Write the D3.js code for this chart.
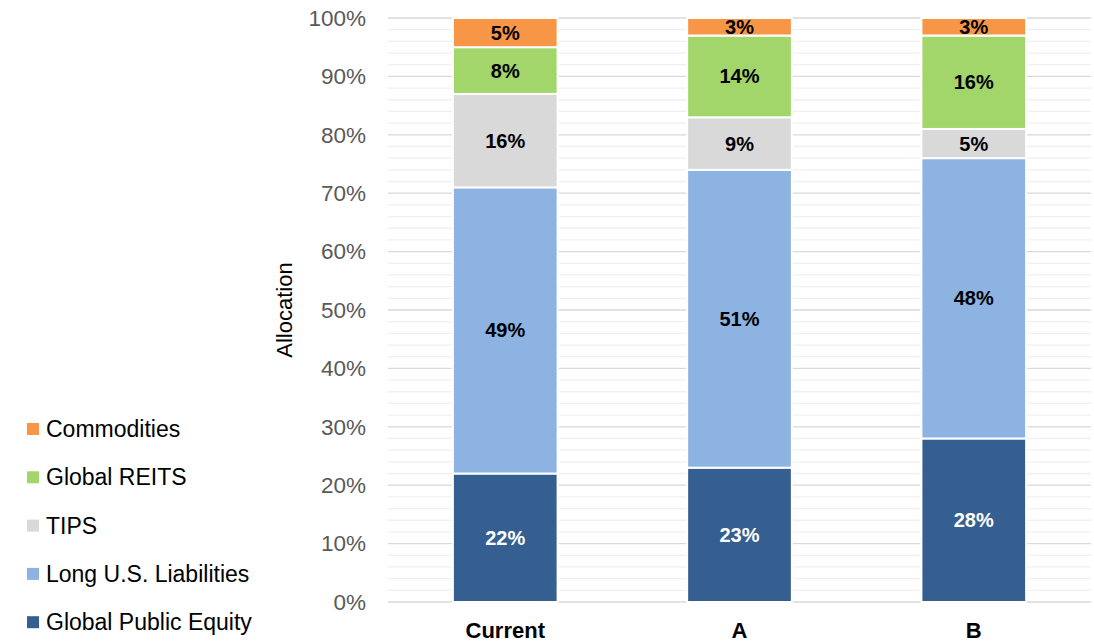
<!DOCTYPE html>
<html><head><meta charset="utf-8">
<script src="https://cdn.jsdelivr.net/npm/d3@7"></script>
<style>body{margin:0;background:#fff;font-family:Arial,"Liberation Sans",sans-serif}</style>
</head><body><div id="container"></div>
<script>
const categories = ["Current", "A", "B"];
const seriesNames = ["Global Public Equity", "Long U.S. Liabilities", "TIPS", "Global REITS", "Commodities"];
const colors = ["#355f91", "#8db3e2", "#d9d9d9", "#a2d56a", "#f79646"];
const equity = [22, 23, 28];
const liabilities = [49, 51, 48];
const tips = [16, 9, 5];
const reits = [8, 14, 16];
const commodities = [5, 3, 3];
const yTicks = [0, 10, 20, 30, 40, 50, 60, 70, 80, 90, 100];

const width = 1094, height = 643;
const svg = d3.select("#container").append("svg").attr("width", width).attr("height", height);

const x = d3.scaleBand().domain(categories).range([388, 1091]).paddingInner(0.553).paddingOuter(0.277);
const y = d3.scaleLinear().domain([0, 100]).range([602, 18]);

// minor grid every 2%
svg.append("g").selectAll("line").data(d3.range(0, 101, 2).filter(v => v % 10 !== 0)).join("line")
  .attr("x1", 388).attr("x2", 1091).attr("y1", d => y(d)).attr("y2", d => y(d))
  .attr("stroke", "#f0f0f0").attr("stroke-width", 1.3);
svg.append("g").selectAll("line").data(yTicks).join("line")
  .attr("x1", 388).attr("x2", 1091).attr("y1", d => y(d)).attr("y2", d => y(d))
  .attr("stroke", "#d9d9d9").attr("stroke-width", 1.3);

const yAxis = svg.append("g").attr("transform", "translate(388,0)")
  .call(d3.axisLeft(y).tickValues(yTicks).tickFormat(d => d + "%").tickSize(0).tickPadding(22));
yAxis.select(".domain").remove();
yAxis.selectAll("text").attr("font-size", 22.5).attr("fill", "#595959").attr("font-family", "Arial,'Liberation Sans',sans-serif");

const rows = categories.map((c, i) => ({ cat: c, v: [equity[i], liabilities[i], tips[i], reits[i], commodities[i]] }));
const table = rows.map(r => { const o = { cat: r.cat }; seriesNames.forEach((s, k) => o[s] = r.v[k]); return o; });
const stack = d3.stack().keys(seriesNames)(table);

stack.forEach((layer, k) => {
  const g = svg.append("g");
  g.selectAll("rect").data(layer).join("rect")
    .attr("x", d => x(d.data.cat)).attr("width", x.bandwidth())
    .attr("y", d => y(d[1])).attr("height", d => y(d[0]) - y(d[1]))
    .attr("fill", colors[k]).attr("stroke", "#fff").attr("stroke-width", 2);
  g.selectAll("text").data(layer).join("text")
    .attr("x", d => x(d.data.cat) + x.bandwidth() / 2)
    .attr("y", d => (y(d[0]) + y(d[1])) / 2 + 7)
    .attr("text-anchor", "middle").attr("font-size", 20).attr("font-weight", "bold")
    .attr("fill", k === 0 ? "#fff" : "#000")
    .text(d => (d[1] - d[0]) + "%");
});

svg.append("g").selectAll("text").data(categories).join("text")
  .attr("x", d => x(d) + x.bandwidth() / 2).attr("y", 638)
  .attr("text-anchor", "middle").attr("font-size", 22).attr("font-weight", "bold").text(d => d);

svg.append("text").attr("transform", "translate(292,310) rotate(-90)")
  .attr("text-anchor", "middle").attr("font-size", 22).text("Allocation");

const legend = svg.append("g").selectAll("g").data(seriesNames.slice().reverse()).join("g")
  .attr("transform", (d, i) => `translate(27,${429 + i * 48.3})`);
legend.append("rect").attr("x", 0).attr("y", -6).attr("width", 12).attr("height", 12)
  .attr("fill", d => colors[seriesNames.indexOf(d)]);
legend.append("text").attr("x", 19).attr("y", 8).attr("font-size", 23).attr("fill", "#000").text(d => d);
</script></body></html>
